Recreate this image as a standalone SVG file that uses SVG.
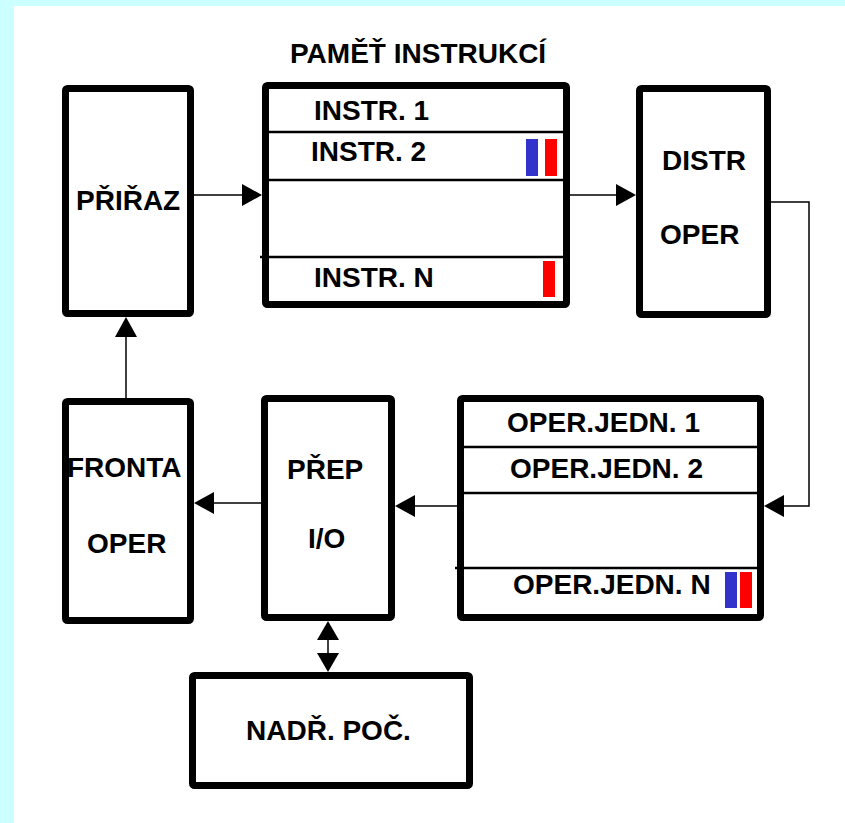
<svg xmlns="http://www.w3.org/2000/svg" width="845" height="823" viewBox="0 0 845 823">
<style>
.box{fill:#fff;stroke:#000;stroke-width:7;stroke-linejoin:round}
.div{stroke:#000;stroke-width:2.5;fill:none}
.con{stroke:#000;stroke-width:1.5;fill:none}
.head{fill:#000}
text{font-family:"Liberation Sans",Arial,sans-serif;font-weight:bold;font-size:28px;fill:#000}
.blue{fill:#3333CC}
.red{fill:#FF0000}
</style>
<rect x="0" y="0" width="845" height="823" fill="#fff"/>
<rect x="0" y="0" width="845" height="6" fill="#CCFFFF"/>
<rect x="0" y="0" width="14" height="823" fill="#CCFFFF"/>

<g id="connectors">
<line class="con" x1="194" y1="195" x2="244" y2="195"/>
<polygon class="head" points="262,195 242,184 242,206"/>
<line class="con" x1="570" y1="195" x2="617" y2="195"/>
<polygon class="head" points="636,195 616,184 616,206"/>
<polyline class="con" points="771,202 809,202 809,506 782,506"/>
<polygon class="head" points="764,506 784,495 784,517"/>
<line class="con" x1="457" y1="506" x2="413" y2="506"/>
<polygon class="head" points="395,506 415,495 415,517"/>
<line class="con" x1="261" y1="503" x2="213" y2="503"/>
<polygon class="head" points="194,503 214,492 214,514"/>
<line class="con" x1="126" y1="398" x2="126" y2="335"/>
<polygon class="head" points="126,317 115,337 137,337"/>
<line class="con" x1="328" y1="638" x2="328" y2="655"/>
<polygon class="head" points="328,621 317,640 339,640"/>
<polygon class="head" points="328,672 317,653 339,653"/>
</g>

<text x="290" y="63">PAMĚŤ INSTRUKCÍ</text>

<g id="prirazovac">
<rect class="box" x="65.5" y="88.5" width="125" height="225" rx="2"/>
<text x="76" y="210">PŘIŘAZ</text>
</g>

<g id="pamet">
<rect class="box" x="265.5" y="85.5" width="301" height="219" rx="2"/>
<line class="div" x1="266" y1="132" x2="566" y2="132"/>
<line class="div" x1="266" y1="180" x2="566" y2="180"/>
<line class="div" x1="260" y1="257" x2="566" y2="257"/>
<text x="314" y="120">INSTR. 1</text>
<text x="311" y="161">INSTR. 2</text>
<text x="314" y="287">INSTR. N</text>
<rect class="blue" x="526" y="139" width="12" height="37"/>
<rect class="red" x="545" y="139" width="12" height="37"/>
<rect class="red" x="543" y="261" width="12" height="36"/>
</g>

<g id="distr">
<rect class="box" x="639.5" y="88.5" width="128" height="226" rx="2"/>
<text x="662" y="170">DISTR</text>
<text x="660" y="244">OPER</text>
</g>

<g id="operjedn">
<rect class="box" x="460.5" y="398.5" width="300" height="219" rx="2"/>
<line class="div" x1="461" y1="447" x2="761" y2="447"/>
<line class="div" x1="461" y1="493" x2="761" y2="493"/>
<line class="div" x1="455" y1="568" x2="761" y2="568"/>
<text x="507" y="432">OPER.JEDN. 1</text>
<text x="510" y="478">OPER.JEDN. 2</text>
<text x="513" y="594">OPER.JEDN. N</text>
<rect class="blue" x="725" y="572" width="12" height="36"/>
<rect class="red" x="740" y="572" width="12" height="36"/>
</g>

<g id="prep">
<rect class="box" x="264.5" y="398.5" width="127" height="219" rx="2"/>
<text x="287" y="479">PŘEP</text>
<text x="308" y="548">I/O</text>
</g>

<g id="fronta">
<rect class="box" x="65.5" y="401.5" width="125" height="219" rx="2"/>
<text x="67" y="477">FRONTA</text>
<text x="87" y="553">OPER</text>
</g>

<g id="nadr">
<rect class="box" x="192.5" y="675.5" width="277" height="110" rx="2"/>
<text x="246" y="740">NADŘ. POČ.</text>
</g>
</svg>
